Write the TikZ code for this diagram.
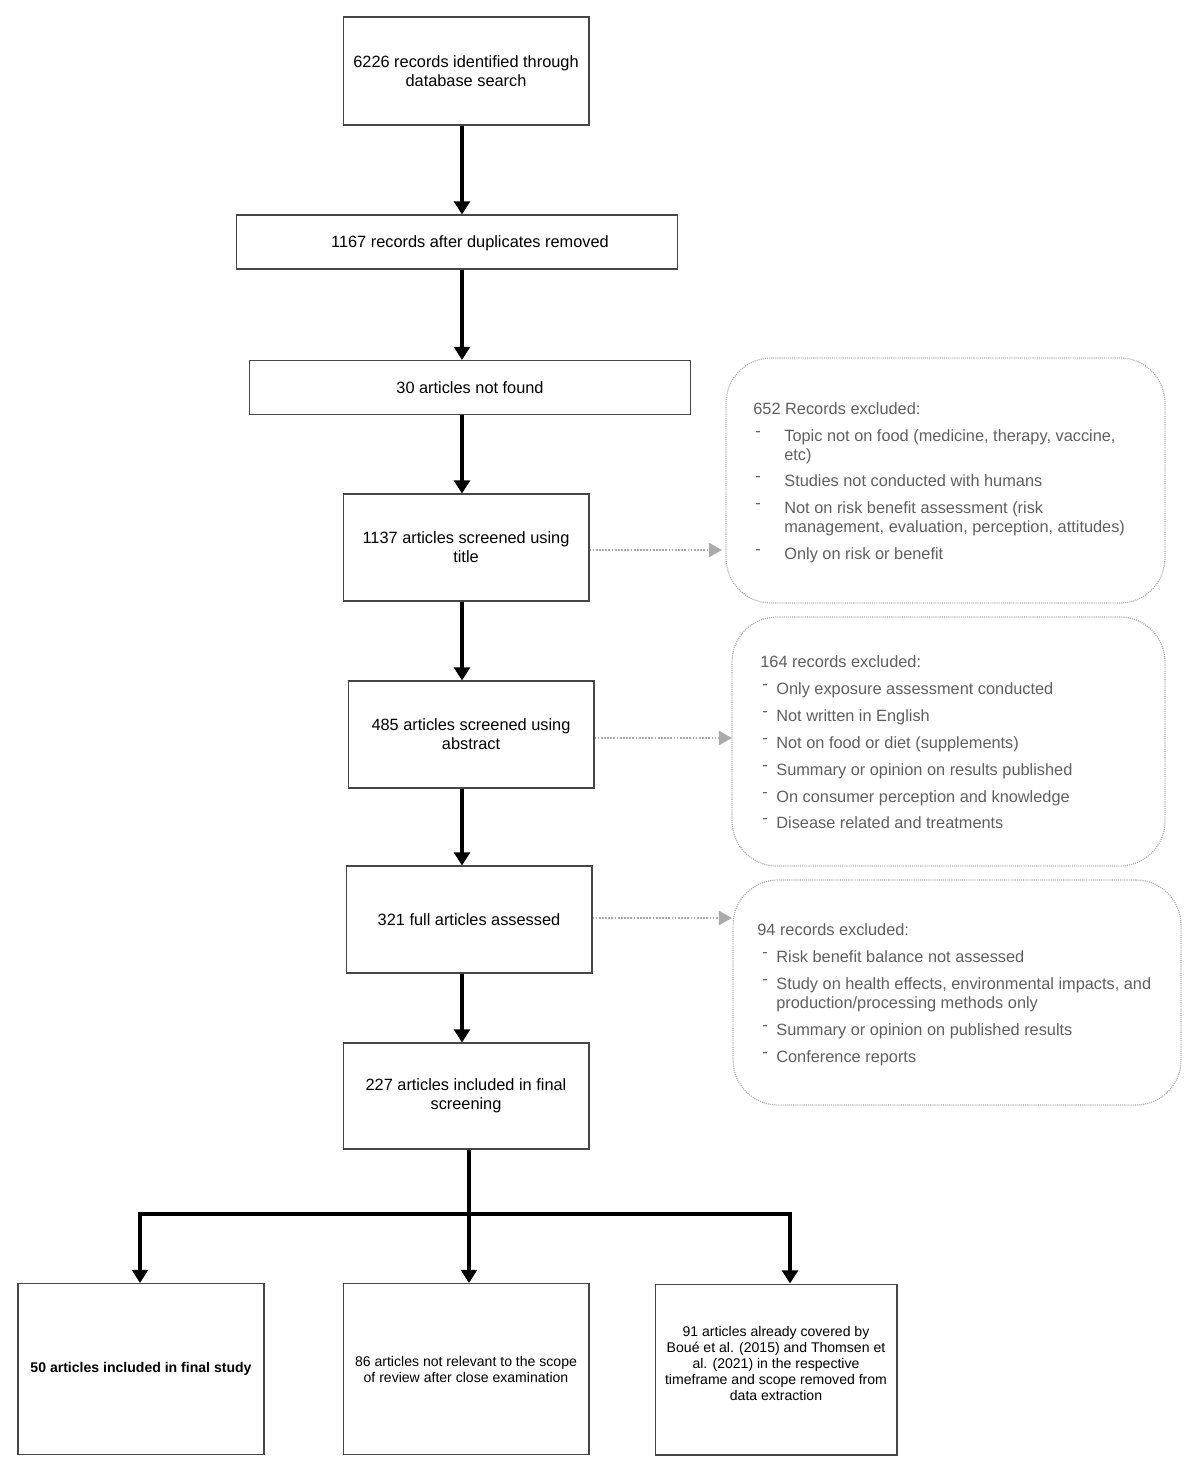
\documentclass[tikz,border=0pt]{standalone}
\usepackage{fontspec}
\setmainfont{Liberation Sans}
\usetikzlibrary{arrows.meta}
\definecolor{boxline}{RGB}{70,70,70}
\definecolor{extext}{RGB}{95,95,95}
\definecolor{exline}{RGB}{175,175,175}
\definecolor{dotarr}{RGB}{170,170,170}
\newcommand{\mainfs}{\fontsize{9.3}{10.8}\selectfont}
\newcommand{\smallfs}{\fontsize{8}{9.1}\selectfont}
\newcommand{\exdash}{\raisebox{2.4pt}{-}}
\tikzset{
  flowbox/.style={draw=boxline, line width=0.6pt, align=center, inner sep=0pt, font=\mainfs},
  lowbox/.style={draw=boxline, line width=0.6pt, align=center, inner sep=0pt, font=\smallfs,
     minimum height=3.42cm},
  plaintext/.style={inner sep=0pt, align=center, font=\mainfs},
  exbox/.style={draw=exline, line width=0.7pt, dash pattern=on 0.6pt off 0.6pt, rounded corners=0.9cm},
  extxt/.style={inner sep=0pt, anchor=base west, align=left, text=extext, font=\mainfs},
  thickarr/.style={line width=2.6pt, draw=black, -{Triangle[width=9pt,length=7.5pt]}},
  dotarrow/.style={draw=dotarr, line width=1.3pt, dash pattern=on 1pt off 0.8pt,
     -{Triangle[width=8pt,length=7.5pt,fill=dotarr]}}
}
\begin{document}
\begin{tikzpicture}[x=0.02cm, y=-0.02cm]
\useasboundingbox (0,0) rectangle (1200,1474);

% main column
\node[flowbox, minimum width=4.92cm, minimum height=2.16cm] (B1) at (466,71)
  {6226 records identified through\\database search};
\node[flowbox, minimum width=8.84cm, minimum height=1.08cm] (B2) at (457,242) {};
\node[plaintext] (T2) at (470,243) {1167 records after duplicates removed};
\node[flowbox, minimum width=8.84cm, minimum height=1.08cm] (B3) at (470,387.5)
  {30 articles not found};
\node[flowbox, minimum width=4.92cm, minimum height=2.14cm] (B4) at (466,547.5)
  {1137 articles screened using\\title};
\node[flowbox, minimum width=4.92cm, minimum height=2.14cm] (B5) at (471,734.5)
  {485 articles screened using\\abstract};
\node[flowbox, minimum width=4.92cm, minimum height=2.14cm] (B6) at (469,919.5)
  {321 full articles assessed};
\node[flowbox, minimum width=4.92cm, minimum height=2.12cm] (B7) at (466,1096)
  {227 articles included in final\\screening};

% bottom row
\node[lowbox, minimum width=4.92cm, font=\smallfs\bfseries] (BL) at (141,1369)
  {50 articles included in final study};
\node[lowbox, minimum width=4.92cm] (BM) at (466,1369)
  {86 articles not relevant to the scope\\of review after close examination};
\node[lowbox, minimum width=4.84cm] (BR) at (776,1369.5) {};
\node[inner sep=0pt, align=center, font=\smallfs] (TR) at (776,1363)
  {91 articles already covered by\\Boué et al. (2015) and Thomsen et\\al. (2021) in the respective\\timeframe and scope removed from\\data extraction};

% exclusion boxes
\node[exbox, minimum width=8.78cm, minimum height=4.9cm] (E1) at (945.5,480.5) {};
\node[exbox, minimum width=8.66cm, minimum height=4.98cm] (E2) at (948.5,741.5) {};
\node[exbox, minimum width=8.96cm, minimum height=4.5cm] (E3) at (957,992.5) {};

% E1 texts (multi-line items are placed by their last baseline)
\node[extxt] (E1h) at (753,414) {652 Records excluded:};
\node[extxt] (E1d1) at (755,441) {\exdash};
\node[extxt] (E1i1) at (784,460) {Topic not on food (medicine, therapy, vaccine,\\etc)};
\node[extxt] (E1d2) at (755,486) {\exdash};
\node[extxt] (E1i2) at (784,486) {Studies not conducted with humans};
\node[extxt] (E1d3) at (755,513) {\exdash};
\node[extxt] (E1i3) at (784,532) {Not on risk benefit assessment (risk\\management, evaluation, perception, attitudes)};
\node[extxt] (E1d4) at (755,559) {\exdash};
\node[extxt] (E1i4) at (784,559) {Only on risk or benefit};

% E2 texts
\node[extxt] (E2h) at (760,667) {164 records excluded:};
\node[extxt] (E2d1) at (762,694) {\exdash};
\node[extxt] (E2i1) at (776,694) {Only exposure assessment conducted};
\node[extxt] (E2d2) at (762,721) {\exdash};
\node[extxt] (E2i2) at (776,721) {Not written in English};
\node[extxt] (E2d3) at (762,748) {\exdash};
\node[extxt] (E2i3) at (776,748) {Not on food or diet (supplements)};
\node[extxt] (E2d4) at (762,775) {\exdash};
\node[extxt] (E2i4) at (776,775) {Summary or opinion on results published};
\node[extxt] (E2d5) at (762,802) {\exdash};
\node[extxt] (E2i5) at (776,802) {On consumer perception and knowledge};
\node[extxt] (E2d6) at (762,828) {\exdash};
\node[extxt] (E2i6) at (776,828) {Disease related and treatments};

% E3 texts
\node[extxt] (E3h) at (757,935) {94 records excluded:};
\node[extxt] (E3d1) at (762,962) {\exdash};
\node[extxt] (E3i1) at (776,962) {Risk benefit balance not assessed};
\node[extxt] (E3d2) at (762,989) {\exdash};
\node[extxt] (E3i2) at (776,1008) {Study on health effects, environmental impacts, and\\production/processing methods only};
\node[extxt] (E3d3) at (762,1035) {\exdash};
\node[extxt] (E3i3) at (776,1035) {Summary or opinion on published results};
\node[extxt] (E3d4) at (762,1062) {\exdash};
\node[extxt] (E3i4) at (776,1062) {Conference reports};

% connectors
\coordinate (ax) at (462,0);
\draw[thickarr] (B1.south -| ax) -- (B2.north -| ax);
\draw[thickarr] (B2.south -| ax) -- (B3.north -| ax);
\draw[thickarr] (B3.south -| ax) -- (B4.north -| ax);
\draw[thickarr] (B4.south -| ax) -- (B5.north -| ax);
\draw[thickarr] (B5.south -| ax) -- (B6.north -| ax);
\draw[thickarr] (B6.south -| ax) -- (B7.north -| ax);

\coordinate (J) at (469,1214);
\coordinate (JL) at (140,1214);
\coordinate (JR) at (790,1214);
\draw[thickarr] (B7.south -| J) -- (BM.north -| J);
\draw[thickarr] (J) -| (BL.north -| JL);
\draw[thickarr] (J) -| (BR.north -| JR);

\coordinate (d1) at (722,550);
\coordinate (d2) at (732,738);
\coordinate (d3) at (732,918);
\draw[dotarrow] (B4.east |- d1) -- (d1);
\draw[dotarrow] (B5.east |- d2) -- (d2);
\draw[dotarrow] (B6.east |- d3) -- (d3);
\end{tikzpicture}
\end{document}
